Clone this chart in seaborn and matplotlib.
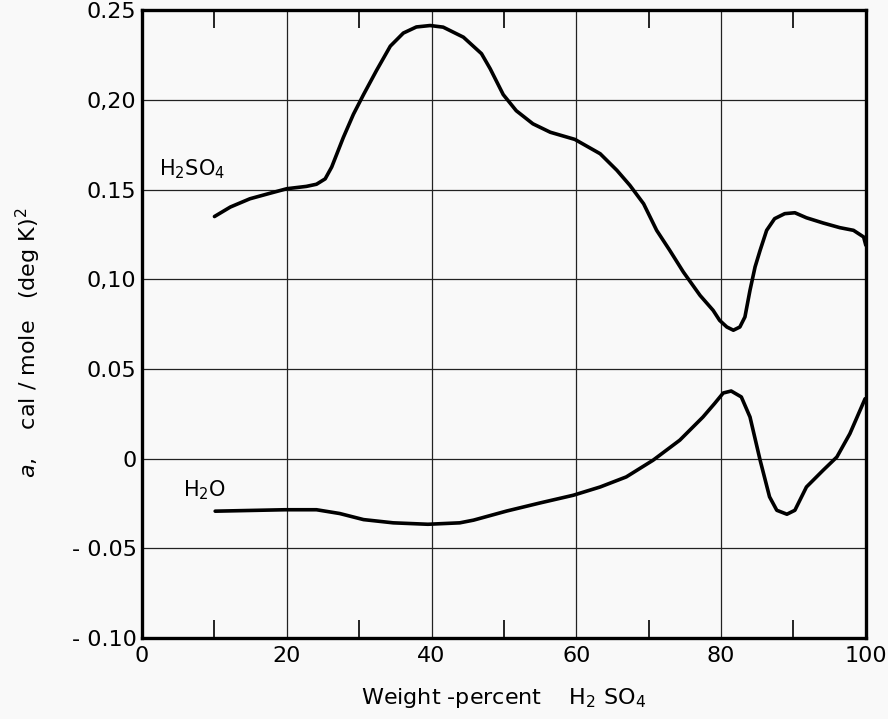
import matplotlib
matplotlib.use("Agg")
import matplotlib.pyplot as plt
import seaborn as sns
import pandas as pd
from matplotlib.ticker import FixedLocator, FixedFormatter

# ---- data ----
h2so4_x = [10.0, 12.2, 14.9, 17.7, 20.0, 22.7, 24.1, 25.3, 26.2, 27.8, 29.2, 30.6, 32.4,
           34.3, 36.1, 37.9, 39.8, 41.6, 44.4, 46.9, 48.1, 49.9, 51.7, 54.0, 56.4, 59.8,
           63.3, 65.6, 67.4, 69.3, 71.1, 72.9, 74.8, 77.1, 78.9, 79.8, 80.8, 81.7, 82.6,
           83.3, 84.0, 84.7, 85.4, 86.3, 87.4, 88.8, 90.2, 91.8, 94.1, 96.4, 98.3, 99.7,
           100.0]
h2so4_y = [0.135, 0.1403, 0.1449, 0.148, 0.1505, 0.1518, 0.153, 0.156, 0.1626, 0.179,
           0.192, 0.203, 0.2165, 0.230, 0.2373, 0.2407, 0.2415, 0.2406, 0.235, 0.2258,
           0.2174, 0.203, 0.194, 0.1867, 0.182, 0.178, 0.170, 0.1608, 0.1524, 0.1421,
           0.1273, 0.1162, 0.104, 0.091, 0.0827, 0.0771, 0.0734, 0.0716, 0.0734, 0.079,
           0.0939, 0.1069, 0.1162, 0.1273, 0.1338, 0.1366, 0.1371, 0.1343, 0.1314, 0.1288,
           0.1273, 0.1236, 0.119]

h2o_x = [10.1, 19.75, 24.1, 27.3, 30.6, 34.7, 39.5, 43.9, 45.8, 50.4, 55.0, 59.6, 63.3,
         66.9, 70.6, 74.3, 77.5, 79.1, 80.3, 81.4, 82.8, 84.0, 85.4, 86.7, 87.7, 89.1,
         90.2, 91.8, 94.1, 96.0, 97.8, 99.9]
h2o_y = [-0.0293, -0.0285, -0.0285, -0.0306, -0.034, -0.0358, -0.0366, -0.0358, -0.0343,
         -0.0292, -0.0247, -0.0204, -0.0158, -0.0102, -0.0009, 0.0103, 0.0232, 0.0307,
         0.0366, 0.0377, 0.0344, 0.0232, -0.0009, -0.0213, -0.0288, -0.031, -0.0288,
         -0.0158, -0.0065, 0.0009, 0.0139, 0.0334]

x_ticks = [0, 20, 40, 60, 80, 100]
x_tick_labels = ["0", "20", "40", "60", "80", "100"]
x_minor = [10, 30, 50, 70, 90]
y_ticks = [-0.10, -0.05, 0.0, 0.05, 0.10, 0.15, 0.20, 0.25]
y_tick_labels = ["- 0.10", "- 0.05", "0", "0.05", "0,10", "0.15", "0,20", "0.25"]

df = pd.concat([
    pd.DataFrame({"x": h2so4_x, "y": h2so4_y, "s": "H2SO4"}),
    pd.DataFrame({"x": h2o_x, "y": h2o_y, "s": "H2O"}),
])

sns.set_style("white")
plt.rcParams["font.family"] = ["DejaVu Sans"]
plt.rcParams["mathtext.fontset"] = "dejavusans"
plt.rcParams["text.color"] = "black"
plt.rcParams["axes.labelcolor"] = "black"
plt.rcParams["xtick.color"] = "black"
plt.rcParams["ytick.color"] = "black"

bg = "#f9f9f9"
fig = plt.figure(figsize=(8.88, 7.19), dpi=100, facecolor=bg)
ax = fig.add_axes([0.160, 0.1127, 0.815, 0.873])
ax.set_facecolor(bg)

sns.lineplot(data=df, x="x", y="y", units="s", estimator=None, sort=False,
             color="black", linewidth=2.6, ax=ax, legend=False)

ax.set_xlim(0, 100)
ax.set_ylim(-0.10, 0.25)

ax.xaxis.set_major_locator(FixedLocator(x_ticks))
ax.xaxis.set_major_formatter(FixedFormatter(x_tick_labels))
ax.xaxis.set_minor_locator(FixedLocator(x_minor))
ax.yaxis.set_major_locator(FixedLocator(y_ticks))
ax.yaxis.set_major_formatter(FixedFormatter(y_tick_labels))

ax.grid(True, which="major", color="#222222", linewidth=0.9)
ax.tick_params(axis="x", which="major", length=0, labelsize=16, pad=6, labelcolor="black")
ax.tick_params(axis="x", which="minor", direction="in", length=13, width=1.2,
               top=True, bottom=True, color="black")
ax.tick_params(axis="y", which="major", direction="in", length=6, width=1.5,
               labelsize=16, pad=4, labelcolor="black", color="black")

for side in ["left", "bottom", "top", "right"]:
    ax.spines[side].set_visible(True)
    ax.spines[side].set_color("black")
    ax.spines[side].set_linewidth(2.4)

ax.set_xlabel("Weight -percent    H$_2$ SO$_4$", fontsize=16, labelpad=14, color="black")
ax.set_ylabel("$a$,    cal / mole   (deg K)$^2$", fontsize=16, color="black")
ax.yaxis.set_label_coords(-0.137, 0.47)

ax.text(2.3, 0.158, "H$_2$SO$_4$", fontsize=15, ha="left", va="baseline", color="black")
ax.text(5.7, -0.021, "H$_2$O", fontsize=15, ha="left", va="baseline", color="black")

fig.savefig("out.png", dpi=100, facecolor=bg)
